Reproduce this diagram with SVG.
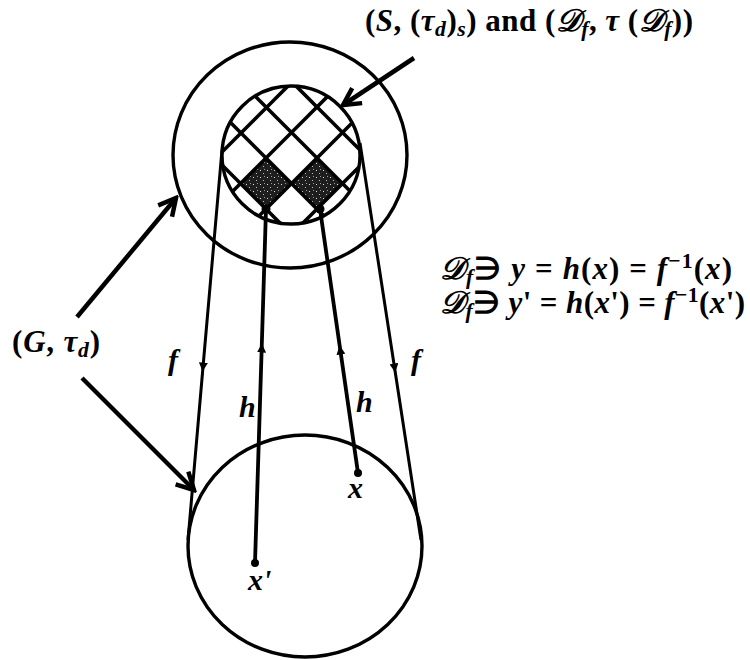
<svg xmlns="http://www.w3.org/2000/svg" width="750" height="660" viewBox="0 0 750 660">
<style>
.c{fill:none;stroke:#000;stroke-width:3.4}
.ln{fill:none;stroke:#000;stroke-width:3}
.hl{stroke-width:3.8}
.big{fill:none;stroke:#000;stroke-width:4.5;marker-end:url(#open)}
.mid{marker-mid:url(#tri)}
.grid line{stroke:#000;stroke-width:3.6}
.t{font-family:"Liberation Serif","Times New Roman",serif;font-weight:bold;fill:#000}
.i{font-style:italic}
.sub{font-size:70%;font-style:italic}
</style>
<defs>
<marker id="tri" viewBox="0 0 10 10" refX="5" refY="5" markerWidth="9" markerHeight="9" markerUnits="userSpaceOnUse" orient="auto"><path d="M0,0 L10,5 L0,10 z" fill="#000"/></marker>
<marker id="open" viewBox="0 0 24 24" refX="21" refY="12" markerWidth="24" markerHeight="24" markerUnits="userSpaceOnUse" orient="auto"><path d="M4,3 L21,12 L4,21" fill="none" stroke="#000" stroke-width="4.5" stroke-linejoin="miter"/></marker>
<pattern id="speck" width="7" height="7" patternUnits="userSpaceOnUse"><rect width="7" height="7" fill="#1e1e1e"/><rect x="1" y="2" width="1" height="1" fill="#ddd"/><rect x="4" y="5" width="1" height="1" fill="#bbb"/><rect x="5" y="1" width="1" height="1" fill="#999"/></pattern>
<clipPath id="inclip"><circle cx="291" cy="155" r="68"/></clipPath>
</defs>

<g id="top-outer">
<ellipse class="c" cx="290" cy="155" rx="117" ry="113"/>
</g>

<g id="top-inner">
<polygon points="240.5,183.5 266,158 291.5,183.5 266,209" fill="url(#speck)"/>
<polygon points="291.5,183.5 317,158 342.5,183.5 317,209" fill="url(#speck)"/>
<g class="grid" clip-path="url(#inclip)">
<line x1="124" y1="250" x2="324" y2="50"/>
<line x1="174" y1="250" x2="374" y2="50"/>
<line x1="225" y1="250" x2="425" y2="50"/>
<line x1="276" y1="250" x2="476" y2="50"/>
<line x1="107" y1="50" x2="307" y2="250"/>
<line x1="158" y1="50" x2="358" y2="250"/>
<line x1="209" y1="50" x2="409" y2="250"/>
<line x1="260" y1="50" x2="460" y2="250"/>
</g>
<circle class="c" cx="291" cy="155" r="69"/>
</g>

<g id="bottom">
<ellipse class="c" cx="305" cy="546" rx="117" ry="111"/>
</g>

<g id="connectors">
<path class="ln mid" d="M222,150 L203,367 L188,540"/>
<path class="ln mid" d="M360,143 L394.6,368 L421,540"/>
<path class="ln hl mid" d="M255,563 L261.7,348 L266,209"/>
<path class="ln hl mid" d="M358,473 L340.3,350 L320,209"/>
<circle cx="266" cy="209" r="4.5"/>
<circle cx="320" cy="209" r="4.5"/>
<circle cx="255" cy="563" r="4"/>
<circle cx="358" cy="473" r="4"/>
<line class="big" x1="414" y1="58" x2="343" y2="105"/>
<line class="big" x1="77" y1="317" x2="176" y2="198"/>
<line class="big" x1="82" y1="378" x2="194" y2="490"/>
</g>

<g id="labels">
<text class="t" x="365" y="31" font-size="31" textLength="328" lengthAdjust="spacing">(<tspan class="i">S</tspan>, (<tspan class="i">τ</tspan><tspan class="sub" dy="5">d</tspan><tspan dy="-5">)</tspan><tspan class="sub" dy="5">s</tspan><tspan dy="-5">) and (</tspan><tspan class="i">𝒟</tspan><tspan class="sub" dy="5">f</tspan><tspan dy="-5">, </tspan><tspan class="i">τ</tspan> (<tspan class="i">𝒟</tspan><tspan class="sub" dy="5">f</tspan><tspan dy="-5">))</tspan></text>
<text class="t" x="440" y="279" font-size="31" textLength="292" lengthAdjust="spacing"><tspan class="i">𝒟</tspan><tspan class="sub" dy="5">f</tspan><tspan dy="-5">∋ </tspan><tspan class="i">y</tspan> = <tspan class="i">h</tspan>(<tspan class="i">x</tspan>) = <tspan class="i">f</tspan><tspan font-size="70%" dy="-11">−1</tspan><tspan dy="11">(</tspan><tspan class="i">x</tspan>)</text>
<text class="t" x="440" y="313" font-size="31" textLength="305" lengthAdjust="spacing"><tspan class="i">𝒟</tspan><tspan class="sub" dy="5">f</tspan><tspan dy="-5">∋ </tspan><tspan class="i">y</tspan>' = <tspan class="i">h</tspan>(<tspan class="i">x</tspan>') = <tspan class="i">f</tspan><tspan font-size="70%" dy="-11">−1</tspan><tspan dy="11">(</tspan><tspan class="i">x</tspan>')</text>
<text class="t" x="12" y="352" font-size="31" textLength="88" lengthAdjust="spacing">(<tspan class="i">G</tspan>, <tspan class="i">τ</tspan><tspan class="sub" dy="5">d</tspan><tspan dy="-5">)</tspan></text>
<text class="t i" x="168" y="370" font-size="30">f</text>
<text class="t i" x="411" y="370" font-size="30">f</text>
<text class="t i" x="239" y="417" font-size="30">h</text>
<text class="t i" x="356" y="412" font-size="30">h</text>
<text class="t i" x="348" y="498" font-size="30">x</text>
<text class="t i" x="248" y="590" font-size="30">x'</text>
</g>
</svg>
